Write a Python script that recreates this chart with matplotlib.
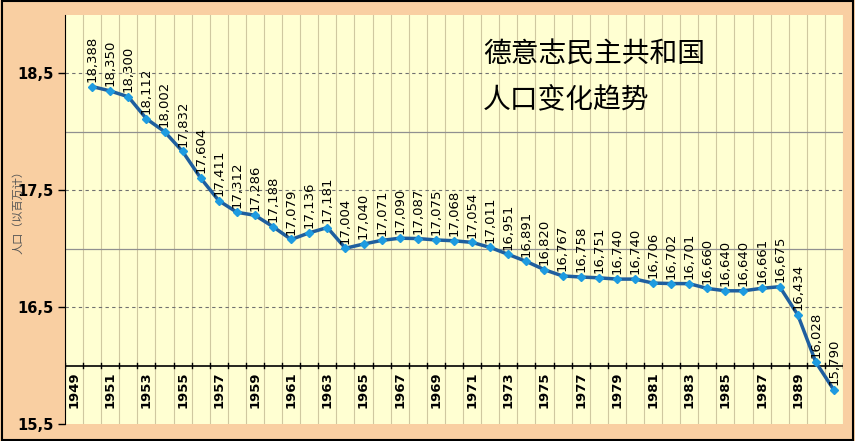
import matplotlib
matplotlib.use("Agg")
import matplotlib.pyplot as plt
import numpy as np

plt.rcParams['font.family'] = ['Noto Sans CJK SC', 'DejaVu Sans']

years = list(range(1949, 1992))
pop_years = list(range(1950, 1992))
population = [18.388, 18.350, 18.300, 18.112, 18.002, 17.832, 17.604, 17.411, 17.312, 17.286,
              17.188, 17.079, 17.136, 17.181, 17.004, 17.040, 17.071, 17.090, 17.087, 17.075,
              17.068, 17.054, 17.011, 16.951, 16.891, 16.820, 16.767, 16.758, 16.751, 16.740,
              16.740, 16.706, 16.702, 16.701, 16.660, 16.640, 16.640, 16.661, 16.675, 16.434,
              16.028, 15.790]
yticks = [15.5, 16.5, 17.5, 18.5]
title_lines = ["德意志民主共和国", "人口变化趋势"]

fig = plt.figure(figsize=(8.55, 4.41), dpi=100)
fig.patch.set_facecolor('#F9CFA2')
fig.add_artist(plt.Rectangle((0.002, 0.003), 0.996, 0.994, transform=fig.transFigure,
                             fill=False, edgecolor='black', lw=1.5))
ax = fig.add_axes([65/855, 1-424/441, (843-65)/855, (424-15)/441])
ax.set_facecolor('#FFFFD2')
ax.set_xlim(-0.5, len(years) - 0.5)
ax.set_ylim(15.5, 19.0)

for k in range(len(years) + 1):
    ax.axvline(k - 0.5, color='#CFC8A0', lw=0.8, zorder=1)
for g in [16.5, 17.5, 18.5]:
    ax.axhline(g, color='#707070', lw=0.8, ls=(0, (3, 3)), zorder=1)
for g in [17.0, 18.0]:
    ax.axhline(g, color='#909090', lw=0.9, zorder=1)
ax.axhline(16.0, color='black', lw=1.2, zorder=2)
for k in range(len(years) + 1):
    ax.plot([k - 0.5, k - 0.5], [15.98, 16.02], color='black', lw=1, zorder=2)

xs = [years.index(y) for y in pop_years]
ax.plot(xs, population, color='#1F5F9F', lw=2.5, zorder=3)
ax.plot(xs, population, ls='none', marker='D', ms=4.5, color='#1E9BE0', zorder=4)
for x, v in zip(xs, population):
    ax.text(x, v + 0.04, f"{v:.3f}".replace('.', ','), rotation=90, ha='center', va='bottom',
            fontsize=9.5, family='DejaVu Sans', zorder=5)

for i, y in enumerate(years):
    if y % 2 == 1 and y < 1991:
        ax.text(i, 15.95, str(y), rotation=90, ha='center', va='top', fontsize=9.5,
                fontweight='bold', family='DejaVu Sans')

ax.set_xticks([])
ax.set_yticks(yticks)
ax.set_yticklabels([f"{t:.1f}".replace('.', ',') for t in yticks], fontsize=10.5,
                   fontweight='bold', family='DejaVu Sans')
ax.tick_params(axis='y', length=5, width=1)
for s in ['top', 'right', 'bottom']:
    ax.spines[s].set_visible(False)
ax.spines['left'].set_color('black')
fig.text(18/855, 1-210/441, "人口（以百万计）", fontsize=8, color='#555555', rotation=90,
         ha='center', va='center')

fig.text(483/855, 1-55/441, title_lines[0], fontsize=20, va='center', ha='left')
fig.text(483/855, 1-100/441, title_lines[1], fontsize=20, va='center', ha='left')

fig.savefig("out.png", dpi=100, facecolor=fig.get_facecolor())
